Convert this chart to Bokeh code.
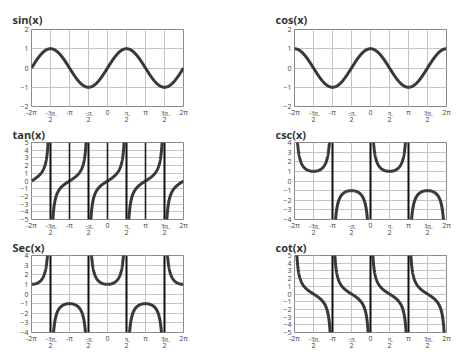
import numpy as np
from bokeh.plotting import figure
from bokeh.layouts import gridplot
from bokeh.models import FixedTicker, CustomJSTickFormatter, Range1d, LinearAxis
from bokeh.embed import file_html
from bokeh.resources import INLINE

# ---- data ----
titles = ["sin(x)", "cos(x)", "tan(x)", "csc(x)", "Sec(x)", "cot(x)"]
funcs = ["sin", "cos", "tan", "csc", "sec", "cot"]
y_limits = [2, 2, 5, 4, 4, 5]
# asymptote positions, in multiples of pi
asymptotes = {
    "sin": [], "cos": [],
    "tan": [-1.5, -0.5, 0.5, 1.5],
    "csc": [-1, 0, 1],
    "sec": [-1.5, -0.5, 0.5, 1.5],
    "cot": [-1, 0, 1],
}
dark_lines = {"tan": [-1, 0, 1]}
tick_multiples = [-4, -3, -2, -1, 0, 1, 2, 3, 4]   # multiples of pi/2
U = "\u0332"
tick_numerators = ["-2π", "-3" + U + "π" + U, "-π", "-" + U + "π" + U, "0",
                   "π" + U, "π", "3" + U + "π" + U, "2π"]
tick_denominators = ["", "2", "", "2", "", "2", "", "2", ""]
x_min, x_max = -2 * np.pi, 2 * np.pi

FONT = "Open Sans"
CURVE = "#383838"
GRID = "#c4c4c4"

xs = np.linspace(x_min, x_max, 4001)
with np.errstate(divide="ignore", invalid="ignore"):
    values = {
        "sin": np.sin(xs),
        "cos": np.cos(xs),
        "tan": np.tan(xs),
        "csc": 1 / np.sin(xs),
        "sec": 1 / np.cos(xs),
        "cot": 1 / np.tan(xs),
    }

def style_axis(ax, standoff):
    ax.axis_line_color = None
    ax.major_tick_line_color = None
    ax.minor_tick_line_color = None
    ax.major_tick_out = 0
    ax.major_tick_in = 0
    ax.minor_tick_out = 0
    ax.minor_tick_in = 0
    ax.axis_label = None
    ax.major_label_text_font = FONT
    ax.major_label_text_font_size = "7px"
    ax.major_label_text_color = "#444444"
    ax.major_label_standoff = standoff

def make(i, col):
    name = funcs[i]
    lim = y_limits[i]
    row = i // 2
    if col == 0:
        bl, br = 31, 56
    else:
        bl, br = 55, 20
    top = 29 if row == 0 else 0
    p = figure(frame_width=152, frame_height=77, output_backend="svg", toolbar_location=None,
               x_range=Range1d(x_min, x_max), y_range=Range1d(-lim, lim),
               min_border_left=bl, min_border_right=br,
               min_border_top=top, min_border_bottom=0, title=titles[i])
    p.title.text_font = FONT
    p.title.text_font_size = "11px"
    p.title.text_font_style = "bold"
    p.title.text_color = "#333333"
    p.title.offset = -19
    p.title.standoff = 5 if row == 0 else 1
    p.outline_line_color = "#8a8a8a"
    p.outline_line_width = 1

    xticker = FixedTicker(ticks=[k * np.pi / 2 for k in tick_multiples])
    code = """
        const k = Math.round(tick / (Math.PI / 2));
        return labels[k + 4];
    """
    p.xaxis.ticker = xticker
    p.xaxis.formatter = CustomJSTickFormatter(args=dict(labels=tick_numerators), code=code)
    den = LinearAxis(ticker=xticker,
                     formatter=CustomJSTickFormatter(args=dict(labels=tick_denominators), code=code))
    p.add_layout(den, "below")
    p.yaxis.ticker = FixedTicker(ticks=list(range(-lim, lim + 1)))
    style_axis(p.xaxis[0], 1)
    style_axis(den, -3)
    style_axis(p.yaxis[0], 3)
    p.grid.grid_line_color = GRID
    p.grid.grid_line_width = 1

    y = values[name].copy()
    y[np.abs(y) > lim * 3] = np.nan
    p.line(xs, y, line_color=CURVE, line_width=3)

    a = [m * np.pi for m in asymptotes[name]]
    if a:
        p.segment(x0=a, y0=[-lim] * len(a), x1=a, y1=[lim] * len(a),
                  line_color="#111111", line_width=2)
    d = [m * np.pi for m in dark_lines.get(name, [])]
    if d:
        p.segment(x0=d, y0=[-lim] * len(d), x1=d, y1=[lim] * len(d),
                  line_color="#222222", line_width=1.6)
    return p

plots = [make(i, i % 2) for i in range(6)]
grid = gridplot([[plots[0], plots[1]], [plots[2], plots[3]], [plots[4], plots[5]]],
                toolbar_location=None)

open("out.html", "w").write(file_html(grid, INLINE))
